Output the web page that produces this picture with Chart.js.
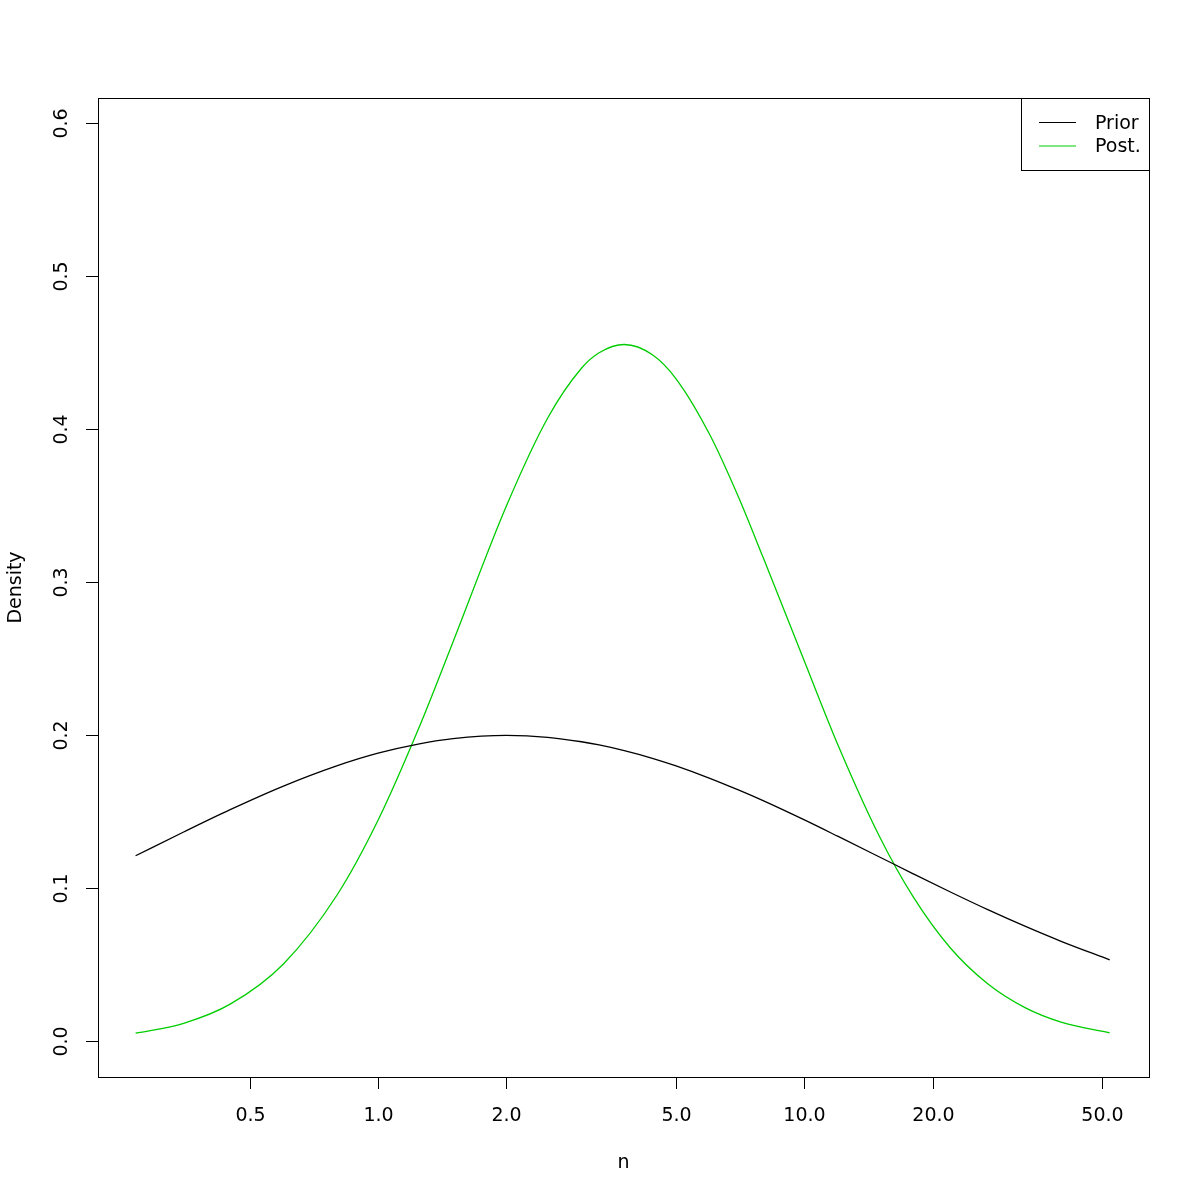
<!DOCTYPE html>
<html>
<head>
<meta charset="utf-8">
<script src="https://cdn.jsdelivr.net/npm/chart.js@4"></script>
<style>
  body { margin: 0; background: #fff; }
  canvas { display: block; }
</style>
</head>
<body>
<canvas id="densityChart" width="1200" height="1200"></canvas>
<script>
// n values read along the log axis
const nValues = [0.27, 0.35, 0.45, 0.6, 0.8, 1.0, 1.25, 1.5, 2.0, 2.5, 3.0, 3.3, 3.78, 4.4, 5.0,
                 6, 7, 8, 10, 12, 15, 18, 22, 27, 33, 40, 52];
// density of the prior (black)
const priorDensity = [0.1209, 0.1364, 0.1510, 0.1664, 0.1796, 0.1879, 0.1940, 0.1974, 0.1995, 0.1983,
                      0.1954, 0.1933, 0.1896, 0.1846, 0.1796, 0.1715, 0.1639, 0.1569, 0.1443, 0.1335,
                      0.1201, 0.1091, 0.0972, 0.0855, 0.0747, 0.0650, 0.0529];
// density of the posterior (green)
const postDensity = [0.0049, 0.0114, 0.0239, 0.0502, 0.0949, 0.1441, 0.2052, 0.2608, 0.3495, 0.4070,
                     0.4395, 0.4496, 0.4550, 0.4483, 0.4326, 0.3960, 0.3555, 0.3159, 0.2480, 0.1930,
                     0.1335, 0.0940, 0.0606, 0.0369, 0.0215, 0.0122, 0.0052];
const xTicks = [0.5, 1, 2, 5, 10, 20, 50];
const xTickLabels = ["0.5", "1.0", "2.0", "5.0", "10.0", "20.0", "50.0"];
const yTicks = [0, 0.1, 0.2, 0.3, 0.4, 0.5, 0.6];
const yTickLabels = ["0.0", "0.1", "0.2", "0.3", "0.4", "0.5", "0.6"];
const seriesNames = ["Prior", "Post."];
const seriesColors = ["#000000", "#00CD00"];

const FONT = '19px "DejaVu Sans", sans-serif';

function toPoints(ys) {
    return nValues.map((x, i) => ({ x: x, y: ys[i] }));
}

// R-style axes, box, titles and legend
const baseAxes = {
    id: "baseAxes",
    afterDraw(chart) {
        const ctx = chart.ctx;
        const a = chart.chartArea;
        const xs = chart.scales.x;
        const ys = chart.scales.y;
        ctx.save();
        ctx.strokeStyle = "#000";
        ctx.fillStyle = "#000";
        ctx.lineWidth = 1;
        ctx.strokeRect(a.left + 0.5, a.top + 0.5, a.right - a.left, a.bottom - a.top);

        ctx.font = FONT;
        // x axis
        ctx.textAlign = "center";
        ctx.textBaseline = "middle";
        xTicks.forEach((v, i) => {
            const px = Math.round(xs.getPixelForValue(v)) + 0.5;
            ctx.beginPath();
            ctx.moveTo(px, a.bottom);
            ctx.lineTo(px, a.bottom + 12);
            ctx.stroke();
            ctx.fillText(xTickLabels[i], px, 1116);
        });
        // y axis
        yTicks.forEach((v, i) => {
            const py = Math.round(ys.getPixelForValue(v)) + 0.5;
            ctx.beginPath();
            ctx.moveTo(a.left - 12, py);
            ctx.lineTo(a.left, py);
            ctx.stroke();
            ctx.save();
            ctx.translate(62, py);
            ctx.rotate(-Math.PI / 2);
            ctx.fillText(yTickLabels[i], 0, 0);
            ctx.restore();
        });
        // titles
        ctx.fillText("n", (a.left + a.right) / 2, 1163);
        ctx.save();
        ctx.translate(16, (a.top + a.bottom) / 2);
        ctx.rotate(-Math.PI / 2);
        ctx.fillText("Density", 0, 0);
        ctx.restore();

        // legend
        const lx = 1021.5, ly = a.top + 0.5, lw = a.right - 1021, lh = 72;
        ctx.fillStyle = "#fff";
        ctx.fillRect(lx, ly, lw, lh);
        ctx.strokeRect(lx, ly, lw, lh);
        ctx.textAlign = "left";
        seriesNames.forEach((name, i) => {
            const yy = 122.5 + i * 23.5;
            ctx.strokeStyle = seriesColors[i];
            ctx.beginPath();
            ctx.moveTo(1039, yy);
            ctx.lineTo(1076, yy);
            ctx.stroke();
            ctx.fillStyle = "#000";
            ctx.fillText(name, 1095, yy + 1.5);
        });
        ctx.restore();
    }
};

new Chart(document.getElementById("densityChart"), {
    type: "line",
    data: {
        datasets: [
            { label: seriesNames[0], data: toPoints(priorDensity), borderColor: seriesColors[0] },
            { label: seriesNames[1], data: toPoints(postDensity), borderColor: seriesColors[1] }
        ]
    },
    options: {
        responsive: false,
        animation: false,
        devicePixelRatio: 1,
        layout: { padding: { left: 98, right: 51, top: 98, bottom: 123 } },
        elements: {
            point: { radius: 0 },
            line: { borderWidth: 1.3, cubicInterpolationMode: "monotone", fill: false }
        },
        plugins: { legend: { display: false }, tooltip: { enabled: false } },
        scales: {
            x: { type: "logarithmic", min: 0.2204, max: 64.3, display: false },
            y: { type: "linear", min: -0.0237, max: 0.6161, display: false }
        }
    },
    plugins: [baseAxes]
});
</script>
</body>
</html>
